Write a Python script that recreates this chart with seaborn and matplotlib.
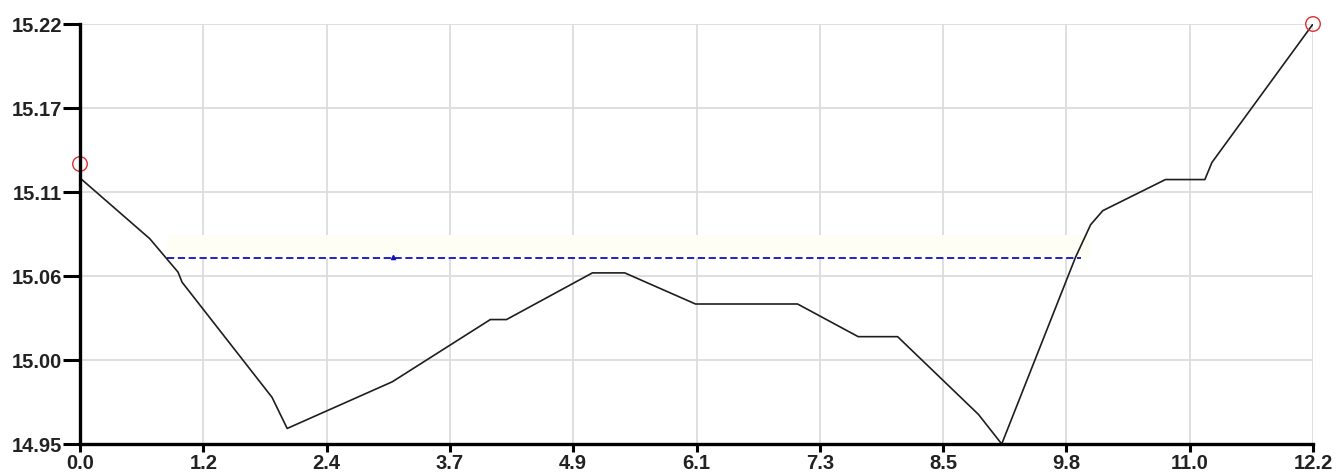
import numpy as np
import pandas as pd
import seaborn as sns
import matplotlib.pyplot as plt

# values
x_vals = [0.0, 0.69, 0.97, 1.01, 1.90, 2.05, 3.09, 4.06, 4.22, 5.07, 5.39, 6.09, 7.10,
          7.70, 8.09, 8.89, 9.12, 9.85, 10.00, 10.12, 10.74, 11.13, 11.20, 12.2]
y_vals = [15.121, 15.082, 15.0605, 15.054, 14.980, 14.960, 14.990, 15.030, 15.030, 15.060,
          15.060, 15.040, 15.040, 15.019, 15.019, 14.969, 14.950, 15.070, 15.091, 15.100,
          15.120, 15.120, 15.131, 15.220]

# hollow red circles (first / last marker)
circle_x = [0.0, 12.2]
circle_y = [15.13, 15.22]

# blue dashed level line
level_y = 15.0695
level_start = 0.86
level_end = 9.90
level_mark_x = 3.10

x_ticks = [0.0, 1.22, 2.44, 3.66, 4.88, 6.1, 7.32, 8.54, 9.76, 10.98, 12.2]
x_labels = ["0.0", "1.2", "2.4", "3.7", "4.9", "6.1", "7.3", "8.5", "9.8", "11.0", "12.2"]
y_ticks = [14.95, 15.004, 15.058, 15.112, 15.166, 15.22]
y_labels = ["14.95", "15.00", "15.06", "15.11", "15.17", "15.22"]

data = pd.DataFrame({"x": x_vals, "y": y_vals})

sns.set_style("white")
plt.rcParams['font.family'] = ['Liberation Sans', 'DejaVu Sans']

fig = plt.figure(figsize=(13.43, 4.75), dpi=100)
ax = fig.add_axes([80 / 1343, 1 - 444 / 475, 1233 / 1343, 420 / 475])

# very faint yellow band above the level line
ax.fill_between([level_start, level_end + 0.1], level_y, level_y + 0.015,
                color="#fffef4", zorder=1, linewidth=0)

# level line
ax.plot([level_start, level_end], [level_y, level_y], color="#1010c0",
        linestyle=(0, (4, 2)), linewidth=1.3, zorder=2)
ax.plot([level_mark_x], [level_y + 0.0008], marker="^", markersize=3,
        color="#1010c0", zorder=2)

# main line
sns.lineplot(data=data, x="x", y="y", sort=False, color="#1e1e1e",
             linewidth=1.2, ax=ax, zorder=3)

# red circles
ax.scatter(circle_x, circle_y, s=110, facecolors="none", edgecolors="#e03030",
           linewidths=1.0, zorder=4, clip_on=False)

ax.set_xlim(0, 12.2)
ax.set_ylim(14.95, 15.22)
ax.set_xticks(x_ticks)
ax.set_xticklabels(x_labels)
ax.set_yticks(y_ticks)
ax.set_yticklabels(y_labels)
ax.set_xlabel("")
ax.set_ylabel("")

ax.grid(True, color="#dcdcdc", linewidth=1.3)
ax.set_axisbelow(True)

for side in ["top", "right"]:
    ax.spines[side].set_visible(False)
for side in ["left", "bottom"]:
    ax.spines[side].set_color("black")
    ax.spines[side].set_linewidth(2.4)
    ax.spines[side].set_zorder(5)

ax.tick_params(axis="y", direction="out", length=12, width=2.2, color="black",
               labelsize=14.5, pad=1, left=True)
ax.tick_params(axis="x", direction="out", length=6, width=2.2, color="black",
               labelsize=14.5, pad=1, bottom=True)
for lab in ax.get_xticklabels() + ax.get_yticklabels():
    lab.set_fontweight("bold")
    lab.set_color("#222222")

fig.savefig("out.png", dpi=100)
